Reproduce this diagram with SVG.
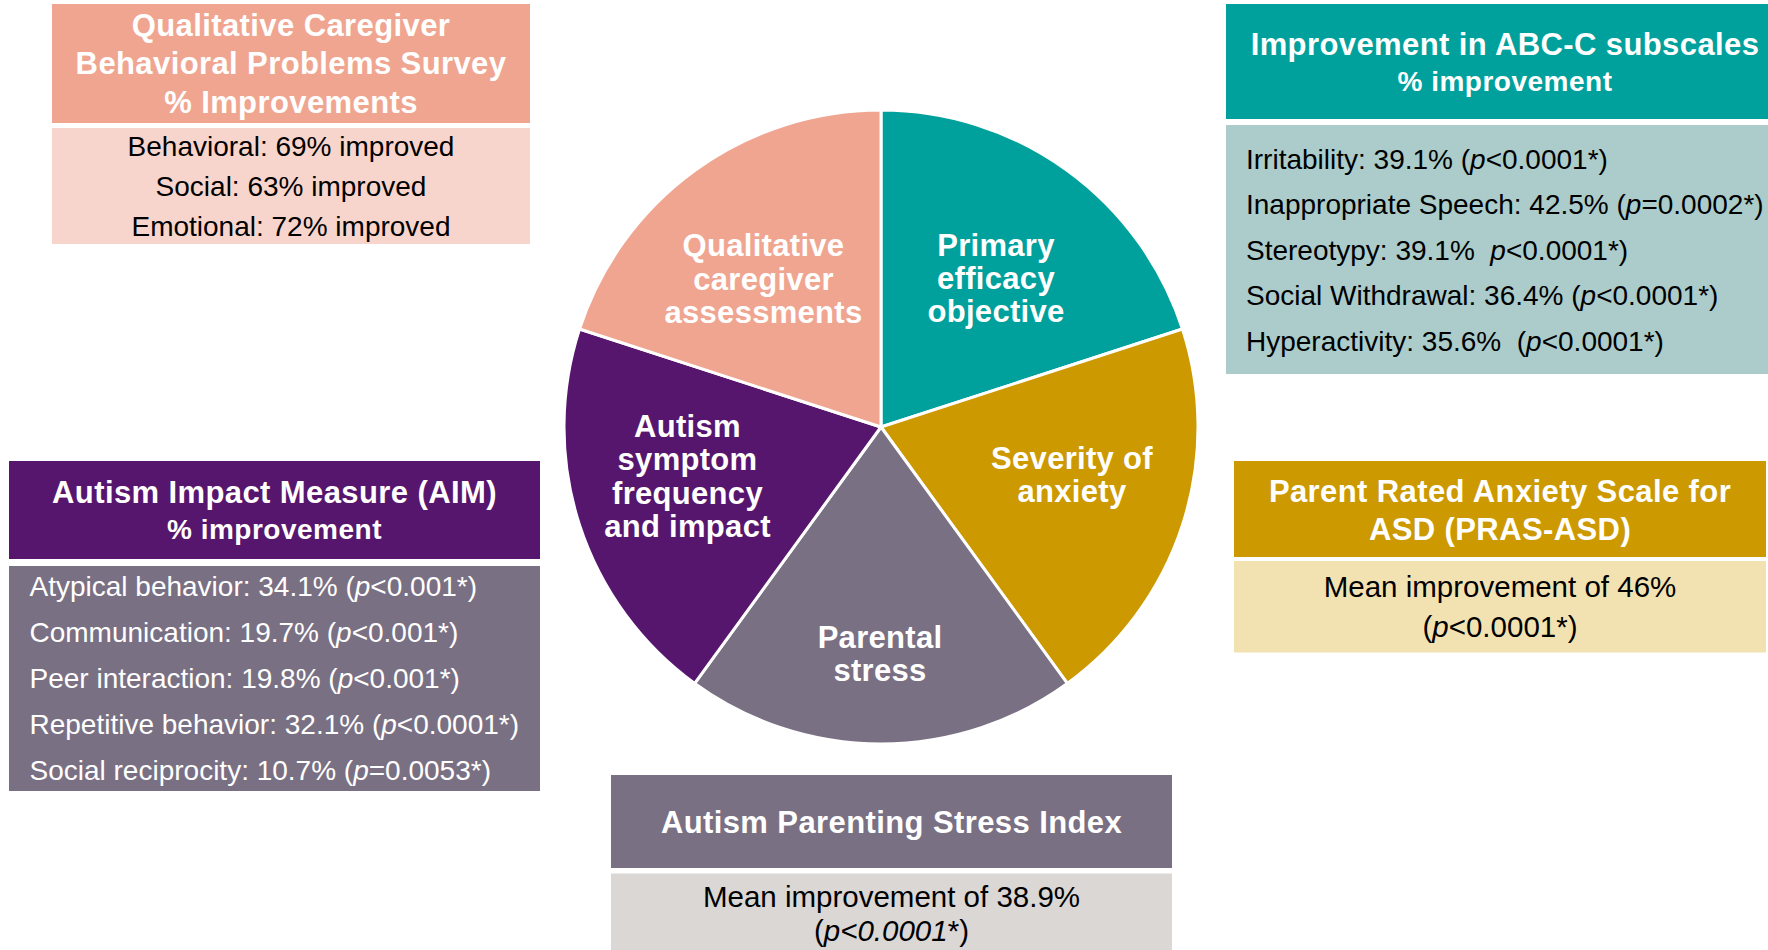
<svg xmlns="http://www.w3.org/2000/svg" width="1768" height="950" viewBox="0 0 1768 950">
<style>
text{font-family:"Liberation Sans",Arial,Helvetica,sans-serif;white-space:pre}
.hd{font-weight:bold;font-size:31px;fill:#fff;text-anchor:middle;letter-spacing:0.4px}
.sub{font-size:28px;letter-spacing:0.5px}
.bd{font-size:28px;fill:#000}
.big{font-size:29.5px}
.c{text-anchor:middle}
.w{fill:#fff}
.it{font-style:italic}
.pl{font-weight:bold;font-size:31px;fill:#fff;text-anchor:middle;letter-spacing:0.3px}
.slice{stroke:#fff;stroke-width:3;stroke-linejoin:round}
</style>
<rect width="1768" height="950" fill="#fff"/>

<g id="pie">
  <g id="slice-primary">
    <path class="slice" fill="#00A19C" d="M881,427 L881,110 A317,317 0 0 1 1182.48,329.04 Z"/>
    <text class="pl" x="996" y="256">Primary</text>
    <text class="pl" x="996" y="289">efficacy</text>
    <text class="pl" x="996" y="322">objective</text>
  </g>
  <g id="slice-anxiety">
    <path class="slice" fill="#CC9900" d="M881,427 L1182.48,329.04 A317,317 0 0 1 1067.33,683.46 Z"/>
    <text class="pl" x="1072" y="469">Severity of</text>
    <text class="pl" x="1072" y="502">anxiety</text>
  </g>
  <g id="slice-stress">
    <path class="slice" fill="#7A7083" d="M881,427 L1067.33,683.46 A317,317 0 0 1 694.67,683.46 Z"/>
    <text class="pl" x="880" y="648">Parental</text>
    <text class="pl" x="880" y="681">stress</text>
  </g>
  <g id="slice-autism">
    <path class="slice" fill="#57166E" d="M881,427 L694.67,683.46 A317,317 0 0 1 579.52,329.04 Z"/>
    <text class="pl" x="687.5" y="437">Autism</text>
    <text class="pl" x="687.5" y="470">symptom</text>
    <text class="pl" x="687.5" y="503.5">frequency</text>
    <text class="pl" x="687.5" y="536.5">and impact</text>
  </g>
  <g id="slice-qualitative">
    <path class="slice" fill="#F0A591" d="M881,427 L579.52,329.04 A317,317 0 0 1 881,110 Z"/>
    <text class="pl" x="763.5" y="256">Qualitative</text>
    <text class="pl" x="763.5" y="290">caregiver</text>
    <text class="pl" x="763.5" y="323">assessments</text>
  </g>
</g>

<g id="box-qualitative">
  <rect x="52" y="4" width="478" height="119" fill="#F0A591"/>
  <text class="hd" x="291" y="36">Qualitative Caregiver</text>
  <text class="hd" x="291" y="74">Behavioral Problems Survey</text>
  <text class="hd" x="291" y="113">% Improvements</text>
  <rect x="52" y="128" width="478" height="116" fill="#F8D5CC"/>
  <text class="bd c" x="291" y="156">Behavioral: 69% improved</text>
  <text class="bd c" x="291" y="196">Social: 63% improved</text>
  <text class="bd c" x="291" y="235.5">Emotional: 72% improved</text>
</g>

<g id="box-abcc">
  <rect x="1226" y="4" width="542" height="115" fill="#00A19C"/>
  <text class="hd" x="1505" y="55">Improvement in ABC-C subscales</text>
  <text class="hd sub" x="1505" y="90.7">% improvement</text>
  <rect x="1226" y="125" width="542" height="249" fill="#ABCCCB"/>
  <text class="bd" x="1246" y="169">Irritability: 39.1% (<tspan class="it">p</tspan>&lt;0.0001*)</text>
  <text class="bd" x="1246" y="213.5">Inappropriate Speech: 42.5% (<tspan class="it">p</tspan>=0.0002*)</text>
  <text class="bd" x="1246" y="259.5">Stereotypy: 39.1%  <tspan class="it">p</tspan>&lt;0.0001*)</text>
  <text class="bd" x="1246" y="305">Social Withdrawal: 36.4% (<tspan class="it">p</tspan>&lt;0.0001*)</text>
  <text class="bd" x="1246" y="350.5">Hyperactivity: 35.6%  (<tspan class="it">p</tspan>&lt;0.0001*)</text>
</g>

<g id="box-aim">
  <rect x="9" y="461" width="531" height="98" fill="#57166E"/>
  <text class="hd" x="274.5" y="503.3">Autism Impact Measure (AIM)</text>
  <text class="hd sub" x="274.5" y="539.3">% improvement</text>
  <rect x="9" y="566" width="531" height="225" fill="#7A7083"/>
  <text class="bd w" x="29.5" y="596">Atypical behavior: 34.1% (<tspan class="it">p</tspan>&lt;0.001*)</text>
  <text class="bd w" x="29.5" y="642">Communication: 19.7% (<tspan class="it">p</tspan>&lt;0.001*)</text>
  <text class="bd w" x="29.5" y="687.5">Peer interaction: 19.8% (<tspan class="it">p</tspan>&lt;0.001*)</text>
  <text class="bd w" x="29.5" y="733.5">Repetitive behavior: 32.1% (<tspan class="it">p</tspan>&lt;0.0001*)</text>
  <text class="bd w" x="29.5" y="779.5">Social reciprocity: 10.7% (<tspan class="it">p</tspan>=0.0053*)</text>
</g>

<g id="box-pras">
  <rect x="1234" y="461" width="532" height="96" fill="#CC9900"/>
  <text class="hd" x="1500" y="501.7">Parent Rated Anxiety Scale for</text>
  <text class="hd" x="1500" y="540">ASD (PRAS-ASD)</text>
  <rect x="1234" y="561" width="532" height="91.5" fill="#F3E2B1"/>
  <text class="bd big c" x="1500" y="597">Mean improvement of 46%</text>
  <text class="bd big c" x="1500" y="637">(<tspan class="it">p</tspan>&lt;0.0001*)</text>
</g>

<g id="box-stress">
  <rect x="611" y="775" width="561" height="93" fill="#7A7083"/>
  <text class="hd" x="891.5" y="833">Autism Parenting Stress Index</text>
  <rect x="611" y="873.5" width="561" height="76.5" fill="#DAD7D5"/>
  <text class="bd big c" x="891.5" y="907">Mean improvement of 38.9%</text>
  <text class="bd big c" x="891.5" y="941">(<tspan class="it">p&lt;0.0001</tspan>*)</text>
</g>

<g id="connectors"/>
</svg>
